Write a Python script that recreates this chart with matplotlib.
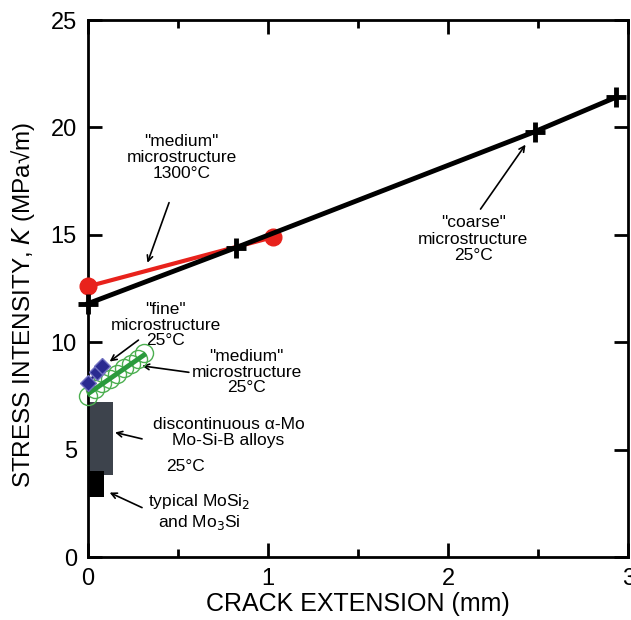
import numpy as np
import matplotlib.pyplot as plt
from matplotlib.patches import Rectangle

plt.rcParams['font.family'] = ['Liberation Sans', 'DejaVu Sans']

# coarse microstructure, 25C
coarse_x = [0.0, 0.82, 2.48, 2.93]
coarse_k = [11.8, 14.4, 19.8, 21.4]

# medium microstructure, 1300C
hot_x = [0.0, 1.03]
hot_k = [12.6, 14.9]

# medium microstructure, 25C (open circles + fit)
med_x = [0.0, 0.04, 0.08, 0.12, 0.16, 0.2, 0.24, 0.28, 0.31]
med_k = [7.5, 7.8, 8.1, 8.3, 8.5, 8.8, 9.0, 9.2, 9.5]
med_fit_x = [0.0, 0.31]
med_fit_k = [7.6, 9.4]

# fine microstructure, 25C
fine_x = [0.0, 0.05, 0.08]
fine_k = [8.1, 8.6, 8.9]

# bars: (x width, K low, K high)
mosib_box = (0.14, 3.8, 7.2)
mosi2_box = (0.09, 2.8, 4.0)

fig = plt.figure(figsize=(6.31, 6.2), dpi=100)
ax = fig.add_axes([0.1395, 0.1016, 0.856, 0.866])

ax.add_patch(Rectangle((0, mosib_box[1]), mosib_box[0], mosib_box[2] - mosib_box[1],
                       facecolor='#3d434c', edgecolor='none', zorder=2))
ax.add_patch(Rectangle((0, mosi2_box[1]), mosi2_box[0], mosi2_box[2] - mosi2_box[1],
                       facecolor='black', edgecolor='none', zorder=3))

ax.plot(coarse_x, coarse_k, color='black', lw=3.5, marker='+', ms=15, mew=3.5, zorder=6, clip_on=False)
ax.plot(hot_x, hot_k, color='#e8221c', lw=3, marker='o', ms=12, zorder=5, clip_on=False)
ax.plot(med_x, med_k, ls='none', marker='o', ms=13, mfc='none', mec='#4caf50', mew=1, zorder=4, clip_on=False)
ax.plot(med_fit_x, med_fit_k, color='#2a9a3c', lw=3.5, zorder=4)
ax.plot(fine_x, fine_k, color='#22227a', lw=2, marker='D', ms=8, mfc='#2a2a90', mec='#7070c0',
        zorder=5, clip_on=False)

ax.set_xlim(0, 3)
ax.set_ylim(0, 25)
ax.set_xticks([0, 1, 2, 3])
ax.set_xticks([0.5, 1.5, 2.5], minor=True)
ax.set_yticks([0, 5, 10, 15, 20, 25])
ax.tick_params(which='both', direction='in', top=True, right=True, width=2, labelsize=17)
ax.tick_params(which='major', length=10, pad=8)
ax.tick_params(which='minor', length=6)
for s in ax.spines.values():
    s.set_linewidth(2)

ax.set_xlabel('CRACK EXTENSION (mm)', fontsize=18, labelpad=1)
ax.set_ylabel('STRESS INTENSITY, $\\it{K}$ (MPa\u221am)', fontsize=17.5)
ax.yaxis.set_label_coords(-0.095, 0.47)

fs = 12.5
arrow = dict(arrowstyle='->', color='black', lw=1.2, shrinkA=0, shrinkB=0)
ax.text(0.52, 18.6, '"medium"\nmicrostructure\n1300\u00b0C', ha='center', va='center',
        fontsize=fs, linespacing=1.1)
ax.annotate('', xy=(0.33, 13.7), xytext=(0.45, 16.5), arrowprops=arrow)
ax.text(2.14, 14.8, '"coarse"\nmicrostructure\n25\u00b0C', ha='center', va='center',
        fontsize=fs, linespacing=1.1)
ax.annotate('', xy=(2.43, 19.2), xytext=(2.18, 16.2), arrowprops=arrow)
ax.text(0.43, 10.8, '"fine"\nmicrostructure\n25\u00b0C', ha='center', va='center',
        fontsize=fs, linespacing=1.05)
ax.annotate('', xy=(0.12, 9.1), xytext=(0.28, 10.1), arrowprops=arrow)
ax.text(0.88, 8.6, '"medium"\nmicrostructure\n25\u00b0C', ha='center', va='center',
        fontsize=fs, linespacing=1.05)
ax.annotate('', xy=(0.30, 8.9), xytext=(0.56, 8.6), arrowprops=arrow)
ax.text(0.78, 5.8, 'discontinuous \u03b1-Mo\nMo-Si-B alloys', ha='center', va='center',
        fontsize=fs, linespacing=1.1)
ax.text(0.54, 4.2, '25\u00b0C', ha='center', va='center', fontsize=fs)
ax.annotate('', xy=(0.15, 5.8), xytext=(0.30, 5.5), arrowprops=arrow)
ax.text(0.62, 2.1, 'typical MoSi$_2$\nand Mo$_3$Si', ha='center', va='center',
        fontsize=fs, linespacing=1.1)
ax.annotate('', xy=(0.12, 3.0), xytext=(0.30, 2.3), arrowprops=arrow)

fig.savefig('out.png', dpi=100)
